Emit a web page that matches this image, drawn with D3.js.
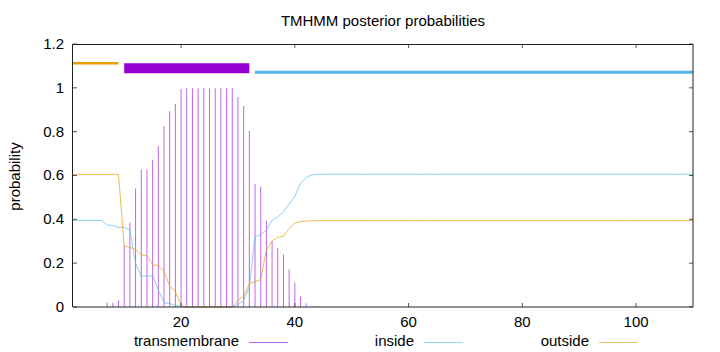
<head>
<script src="https://d3js.org/d3.v7.min.js" charset="utf-8"></script>
</head>

<body>
<div id="chart"></div>

<style>
    body {margin:0;background:#fff;}
    text {font-family:"Liberation Sans", Arial, sans-serif;font-size:15px;fill:#000;}
</style>

<script>

// residue positions 1..110
const positions = d3.range(1, 111);

// posterior probabilities, 10 residues per row
const transmembrane = [
    0, 0, 0, 0, 0, 0, 0.02, 0.02, 0.03, 0.28,
    0.385, 0.54, 0.627, 0.627, 0.672, 0.735, 0.825, 0.894, 0.926, 0.995,
    0.998, 0.998, 0.998, 0.998, 0.998, 0.998, 0.998, 0.998, 0.998, 0.958,
    0.917, 0.804, 0.562, 0.549, 0.393, 0.301, 0.268, 0.24, 0.172, 0.111,
    0.047, 0.017, 0.003, 0.002, 0, 0, 0, 0, 0, 0,
    0, 0, 0, 0, 0, 0, 0, 0, 0, 0,
    0, 0, 0, 0, 0, 0, 0, 0, 0, 0,
    0, 0, 0, 0, 0, 0, 0, 0, 0, 0,
    0, 0, 0, 0, 0, 0, 0, 0, 0, 0,
    0, 0, 0, 0, 0, 0, 0, 0, 0, 0,
    0, 0, 0, 0, 0, 0, 0, 0, 0, 0
];

const inside = [
    0.395, 0.395, 0.395, 0.395, 0.395, 0.395, 0.374, 0.372, 0.363, 0.363,
    0.351, 0.199, 0.141, 0.141, 0.141, 0.078, 0.02, 0.016, 0.008, 0.002,
    0, 0, 0, 0, 0, 0, 0, 0, 0, 0.012,
    0.03, 0.09, 0.321, 0.33, 0.351, 0.397, 0.41, 0.435, 0.47, 0.505,
    0.564, 0.592, 0.603, 0.605, 0.606, 0.606, 0.606, 0.606, 0.606, 0.606,
    0.606, 0.606, 0.606, 0.606, 0.606, 0.606, 0.606, 0.606, 0.606, 0.606,
    0.606, 0.606, 0.606, 0.606, 0.606, 0.606, 0.606, 0.606, 0.606, 0.606,
    0.606, 0.606, 0.606, 0.606, 0.606, 0.606, 0.606, 0.606, 0.606, 0.606,
    0.606, 0.606, 0.606, 0.606, 0.606, 0.606, 0.606, 0.606, 0.606, 0.606,
    0.606, 0.606, 0.606, 0.606, 0.606, 0.606, 0.606, 0.606, 0.606, 0.606,
    0.606, 0.606, 0.606, 0.606, 0.606, 0.606, 0.606, 0.606, 0.606, 0.606
];

const outside = [
    0.605, 0.605, 0.605, 0.605, 0.605, 0.605, 0.605, 0.605, 0.605, 0.278,
    0.272, 0.263, 0.237, 0.235, 0.192, 0.19, 0.161, 0.096, 0.07, 0.005,
    0, 0, 0, 0, 0, 0, 0, 0, 0, 0.03,
    0.05, 0.105, 0.115, 0.125, 0.26, 0.3, 0.318, 0.324, 0.358, 0.383,
    0.39, 0.392, 0.393, 0.394, 0.394, 0.394, 0.394, 0.394, 0.394, 0.394,
    0.394, 0.394, 0.394, 0.394, 0.394, 0.394, 0.394, 0.394, 0.394, 0.394,
    0.394, 0.394, 0.394, 0.394, 0.394, 0.394, 0.394, 0.394, 0.394, 0.394,
    0.394, 0.394, 0.394, 0.394, 0.394, 0.394, 0.394, 0.394, 0.394, 0.394,
    0.394, 0.394, 0.394, 0.394, 0.394, 0.394, 0.394, 0.394, 0.394, 0.394,
    0.394, 0.394, 0.394, 0.394, 0.394, 0.394, 0.394, 0.394, 0.394, 0.394,
    0.394, 0.394, 0.394, 0.394, 0.394, 0.394, 0.394, 0.394, 0.394, 0.394
];

// predicted topology (top bars)
const segType = ["outside", "transmembrane", "inside"];
const segStart = [1, 10, 33];
const segEnd = [9, 32, 110];

const xTicks = [20, 40, 60, 80, 100];
const yTicks = [0, 0.2, 0.4, 0.6, 0.8, 1, 1.2];
const legendLabels = ["transmembrane", "inside", "outside"];

const colors = {transmembrane: "#9400d3", inside: "#56b4e9", outside: "#e69f00"};
// bar level + thickness for the topology line
const barStyle = {
    outside: {level: 1.112, width: 2.6},
    transmembrane: {level: 1.089, width: 10},
    inside: {level: 1.071, width: 2.8}
};

const width = 720, height = 352;
const margin = {top: 44, right: 27, bottom: 45, left: 73};

const x = d3.scaleLinear()
    .domain([1, 110])
    .range([margin.left, width - margin.right]);

const y = d3.scaleLinear()
    .domain([0, 1.2])
    .range([height - margin.bottom, margin.top]);

const svg = d3.select("#chart").append("svg")
    .attr("width", width)
    .attr("height", height);

// title
svg.append("text")
    .attr("x", 383)
    .attr("y", 22)
    .attr("text-anchor", "middle")
    .attr("dominant-baseline", "middle")
    .text("TMHMM posterior probabilities");

// y label
svg.append("text")
    .attr("transform", "translate(16," + (y(0.6) + 1) + ") rotate(-90)")
    .attr("text-anchor", "middle")
    .attr("dominant-baseline", "middle")
    .text("probability");

// transmembrane impulses
svg.append("g")
    .selectAll("line")
    .data(positions.filter((p, i) => transmembrane[i] > 0))
    .enter()
    .append("line")
    .attr("x1", d => x(d))
    .attr("x2", d => x(d))
    .attr("y1", y(0))
    .attr("y2", d => y(transmembrane[d - 1]))
    .style("stroke", colors.transmembrane)
    .style("stroke-opacity", 0.6)
    .style("stroke-width", 1);

const line = d3.line()
    .x(d => x(d[0]))
    .y(d => y(d[1]));

svg.append("path")
    .datum(positions.map((p, i) => [p, inside[i]]))
    .attr("d", line)
    .style("fill", "none")
    .style("stroke", colors.inside)
    .style("stroke-opacity", 0.65)
    .style("stroke-width", 1);

svg.append("path")
    .datum(positions.map((p, i) => [p, outside[i]]))
    .attr("d", line)
    .style("fill", "none")
    .style("stroke", colors.outside)
    .style("stroke-opacity", 0.7)
    .style("stroke-width", 1);

// topology bars
svg.append("g")
    .selectAll("line")
    .data(segType)
    .enter()
    .append("line")
    .attr("x1", (d, i) => x(segStart[i]))
    .attr("x2", (d, i) => x(segEnd[i]))
    .attr("y1", d => y(barStyle[d].level))
    .attr("y2", d => y(barStyle[d].level))
    .style("stroke", d => colors[d])
    .style("stroke-width", d => barStyle[d].width);

// ticks (inward, mirrored)
const tickLen = 4;
const ticks = svg.append("g").style("stroke", "#555").style("stroke-width", 1);
xTicks.forEach(t => {
    ticks.append("line").attr("x1", x(t)).attr("x2", x(t))
        .attr("y1", y(0)).attr("y2", y(0) - tickLen);
    ticks.append("line").attr("x1", x(t)).attr("x2", x(t))
        .attr("y1", y(1.2)).attr("y2", y(1.2) + tickLen);
});
yTicks.forEach(t => {
    ticks.append("line").attr("x1", x(1)).attr("x2", x(1) + tickLen)
        .attr("y1", y(t)).attr("y2", y(t));
    ticks.append("line").attr("x1", x(110)).attr("x2", x(110) - tickLen)
        .attr("y1", y(t)).attr("y2", y(t));
});

// border
const border = svg.append("g").style("stroke", "#222").style("stroke-width", 1);
border.append("line").attr("x1", x(1) - 0.5).attr("x2", x(1) - 0.5).attr("y1", y(1.2)).attr("y2", y(0));
border.append("line").attr("x1", x(1)).attr("x2", x(110)).attr("y1", y(1.2) + 0.5).attr("y2", y(1.2) + 0.5);
border.append("line").attr("x1", x(1)).attr("x2", x(110)).attr("y1", y(0)).attr("y2", y(0));
border.append("line").attr("x1", x(110)).attr("x2", x(110)).attr("y1", y(1.2)).attr("y2", y(0));

// tick labels
svg.append("g")
    .selectAll("text")
    .data(xTicks)
    .enter()
    .append("text")
    .attr("x", d => x(d))
    .attr("y", y(0) + 16)
    .attr("text-anchor", "middle")
    .attr("dominant-baseline", "middle")
    .text(d => d);

svg.append("g")
    .selectAll("text")
    .data(yTicks)
    .enter()
    .append("text")
    .attr("x", x(1) - 9)
    .attr("y", d => y(d) + 1)
    .attr("text-anchor", "end")
    .attr("dominant-baseline", "middle")
    .text(d => d);

// legend
const legendX = [239, 414, 589];
const legend = svg.append("g")
    .selectAll("g")
    .data(legendLabels)
    .enter()
    .append("g")
    .attr("transform", (d, i) => "translate(" + legendX[i] + ",342)");

legend.append("text")
    .attr("text-anchor", "end")
    .attr("dominant-baseline", "middle")
    .text(d => d);

legend.append("line")
    .attr("x1", 10)
    .attr("x2", 49)
    .attr("y1", 0.5)
    .attr("y2", 0.5)
    .style("stroke", d => colors[d])
    .style("stroke-opacity", 0.6)
    .style("stroke-width", 1);

</script>

</body>
